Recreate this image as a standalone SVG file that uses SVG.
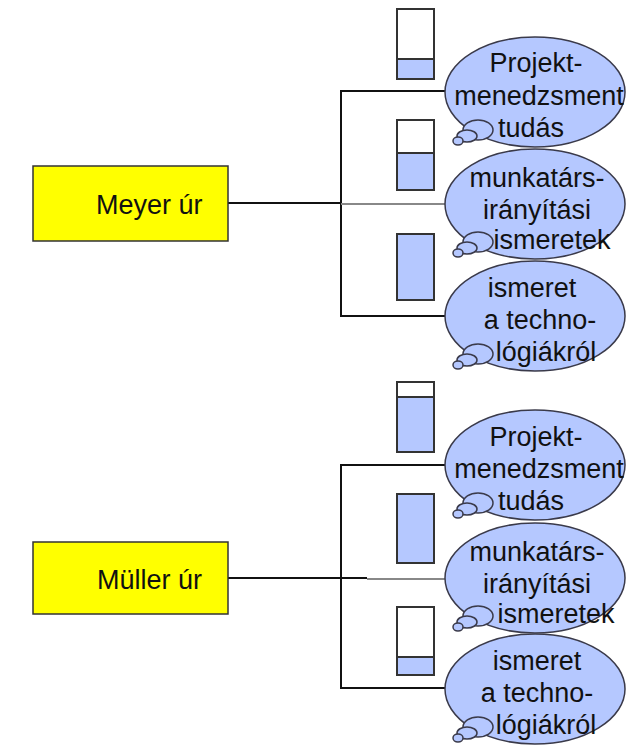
<svg xmlns="http://www.w3.org/2000/svg" width="630" height="745" viewBox="0 0 630 745">
<style>
.person{fill:#FFFF00;stroke:#333;stroke-width:1.5}
.bar{fill:#FFFFFF;stroke:#333;stroke-width:2}
.lvl{fill:#B5C8FF;stroke:#333;stroke-width:2}
.oval{fill:#B5C8FF;stroke:#3A3A4A;stroke-width:1.5}
.txt{font-family:"Liberation Sans",Arial,sans-serif;font-size:27px;fill:#111;text-anchor:middle}
.ptxt{font-family:"Liberation Sans",Arial,sans-serif;font-size:27px;fill:#111}
.ln{stroke:#111;stroke-width:2;fill:none}
.lg{stroke:#888;stroke-width:2;fill:none}
</style>
<defs>
<g id="tail">
<ellipse class="oval" cx="-57" cy="38" rx="15" ry="10"/>
<ellipse class="oval" cx="-68" cy="44" rx="10" ry="6"/>
<ellipse class="oval" cx="-77" cy="49" rx="5" ry="4"/>
</g>
</defs>
<rect width="630" height="745" fill="#FFFFFF"/>

<g id="connectors">
<line class="ln" x1="228" y1="203" x2="341" y2="203"/>
<polyline class="ln" points="445,91 341,91 341,316 445,316"/>
<line class="lg" x1="341" y1="204" x2="445" y2="204"/>
<line class="ln" x1="228" y1="578" x2="341" y2="578"/>
<polyline class="ln" points="445,465 341,465 341,688 445,688"/>
<line class="ln" x1="341" y1="578" x2="367" y2="578"/>
<line class="lg" x1="367" y1="579" x2="445" y2="579"/>
</g>

<g id="meyer">
<rect class="person" x="33" y="166" width="195" height="75"/>
<text class="ptxt" x="96" y="214">Meyer úr</text>
</g>
<g id="muller">
<rect class="person" x="33" y="542" width="195" height="72"/>
<text class="ptxt" x="97" y="589">Müller úr</text>
</g>

<g id="meyer-level-1">
<rect class="bar" x="397" y="9" width="37" height="70"/>
<rect class="lvl" x="397" y="59" width="37" height="20"/>
</g>
<g id="meyer-level-2">
<rect class="bar" x="397" y="120" width="37" height="70"/>
<rect class="lvl" x="397" y="153" width="37" height="37"/>
</g>
<g id="meyer-level-3">
<rect class="lvl" x="397" y="234" width="37" height="66"/>
</g>
<g id="muller-level-1">
<rect class="bar" x="397" y="382" width="37" height="70"/>
<rect class="lvl" x="397" y="397" width="37" height="55"/>
</g>
<g id="muller-level-2">
<rect class="lvl" x="397" y="494" width="37" height="69"/>
</g>
<g id="muller-level-3">
<rect class="bar" x="397" y="607" width="37" height="68"/>
<rect class="lvl" x="397" y="657" width="37" height="18"/>
</g>

<g id="meyer-skill-1">
<ellipse class="oval" cx="535" cy="92" rx="90" ry="55"/>
<use href="#tail" x="535" y="92"/>
<text class="txt" x="536" y="72">Projekt-</text>
<text class="txt" x="539" y="105">menedzsment</text>
<text class="txt" x="531" y="137">tudás</text>
</g>
<g id="meyer-skill-2">
<ellipse class="oval" cx="535" cy="204" rx="90" ry="55"/>
<use href="#tail" x="535" y="204"/>
<text class="txt" x="537" y="187">munkatárs-</text>
<text class="txt" x="537" y="219">irányítási</text>
<text class="txt" x="552" y="249">ismeretek</text>
</g>
<g id="meyer-skill-3">
<ellipse class="oval" cx="535" cy="316" rx="90" ry="55"/>
<use href="#tail" x="535" y="316"/>
<text class="txt" x="532" y="297">ismeret</text>
<text class="txt" x="540" y="329">a techno-</text>
<text class="txt" x="546" y="361">lógiákról</text>
</g>
<g id="muller-skill-1">
<ellipse class="oval" cx="535" cy="465" rx="90" ry="55"/>
<use href="#tail" x="535" y="465"/>
<text class="txt" x="536" y="446">Projekt-</text>
<text class="txt" x="539" y="478">menedzsment</text>
<text class="txt" x="531" y="510">tudás</text>
</g>
<g id="muller-skill-2">
<ellipse class="oval" cx="535" cy="578" rx="90" ry="55"/>
<use href="#tail" x="535" y="578"/>
<text class="txt" x="537" y="561">munkatárs-</text>
<text class="txt" x="537" y="593">irányítási</text>
<text class="txt" x="556" y="623">ismeretek</text>
</g>
<g id="muller-skill-3">
<ellipse class="oval" cx="535" cy="689" rx="90" ry="55"/>
<use href="#tail" x="535" y="689"/>
<text class="txt" x="537" y="670">ismeret</text>
<text class="txt" x="537" y="702">a techno-</text>
<text class="txt" x="546" y="734">lógiákról</text>
</g>
</svg>
